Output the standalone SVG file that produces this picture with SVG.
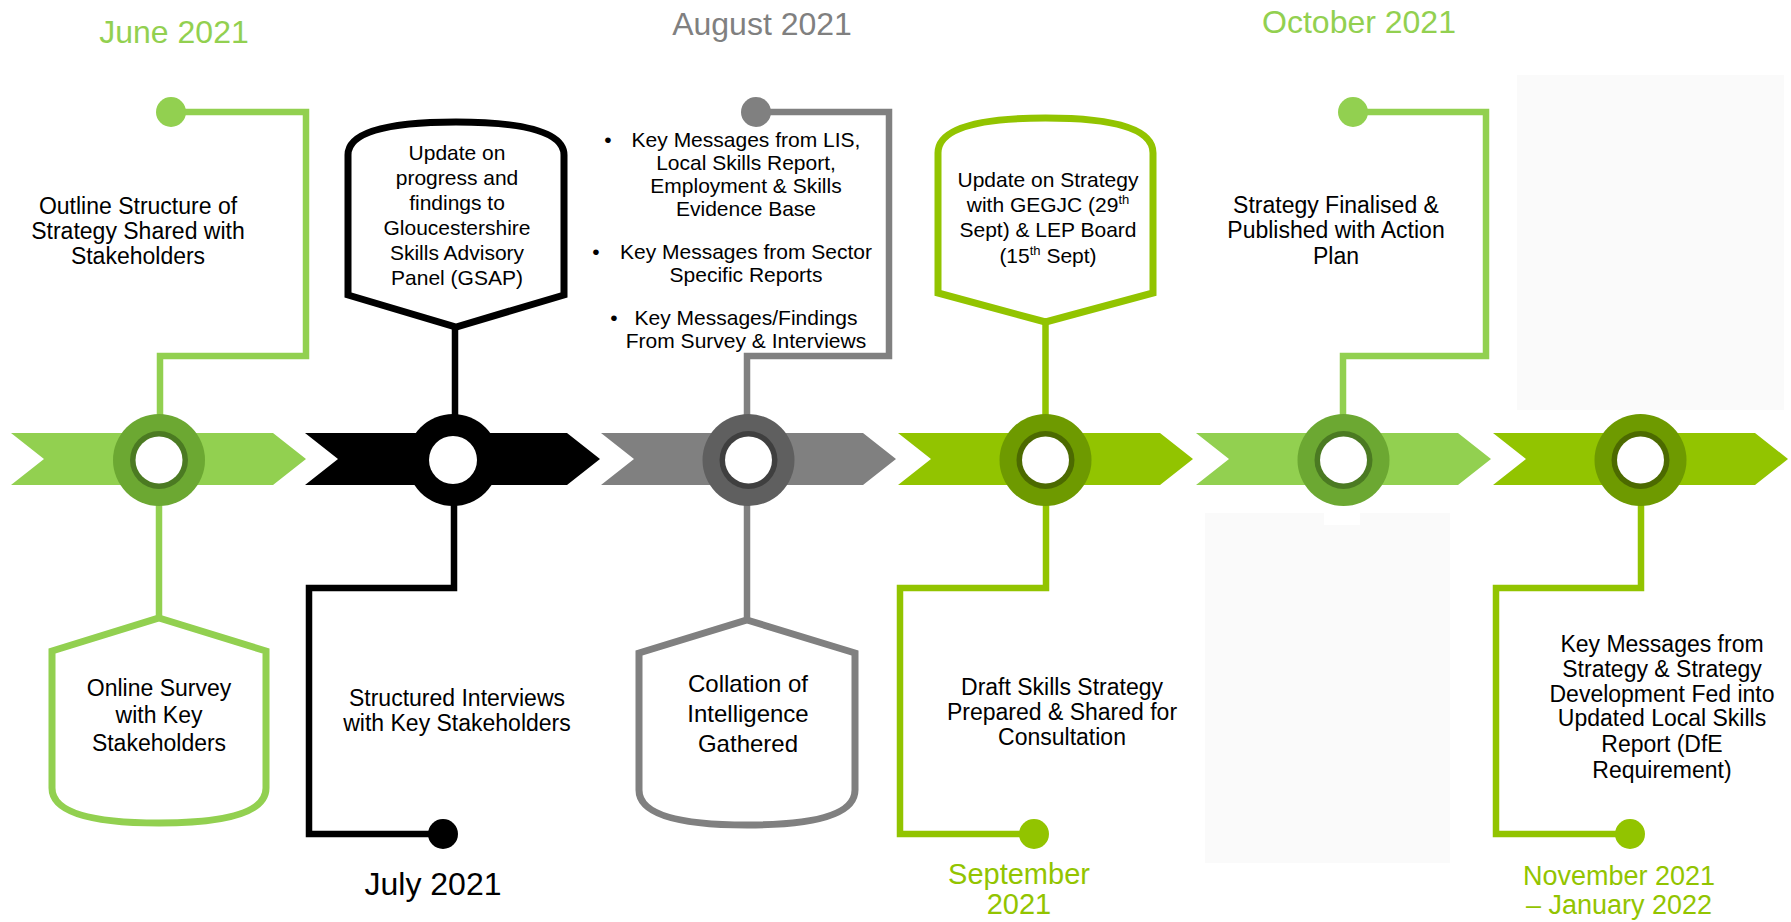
<svg xmlns="http://www.w3.org/2000/svg" xmlns:xlink="http://www.w3.org/1999/xlink" width="1791" height="922" viewBox="0 0 1791 922">
<style>
  text { font-family: "Liberation Sans", Arial, sans-serif; text-anchor: middle; fill: #000; }
  .t23 { font-size: 23px; }
  .t21 { font-size: 21px; }
  .t24 { font-size: 24px; }
  .date { font-size: 32px; }
  .c-lg { fill: #92D050; }
  .c-bk { fill: #000000; }
  .c-gy { fill: #808080; }
  .c-bg { fill: #92C400; }
  .ln { fill: none; stroke-width: 6.5; stroke-linejoin: miter; }
  .s-lg { stroke: #92D050; }
  .s-bk { stroke: #000000; }
  .s-gy { stroke: #808080; }
  .s-bg { stroke: #92C400; }
  .box { fill: #FFFFFF; stroke-width: 7; stroke-linejoin: miter; }
  .ghost { fill: #FAFAFA; }
</style>
<defs>
  <path id="chev" d="M0,433 H262 L295,459 L262,485 H0 L33,459 Z"/>
</defs>

<rect width="1791" height="922" fill="#FFFFFF"/>

<g id="background-panels">
  <rect class="ghost" x="1517" y="75" width="267" height="335"/>
  <rect class="ghost" x="1205" y="513" width="245" height="350"/>
  <rect x="1324" y="513" width="36" height="12" fill="#FFFFFF"/>
</g>

<g id="timeline">
  <use xlink:href="#chev" href="#chev" x="11" class="c-lg"/>
  <use xlink:href="#chev" href="#chev" x="305" class="c-bk"/>
  <use xlink:href="#chev" href="#chev" x="601" class="c-gy"/>
  <use xlink:href="#chev" href="#chev" x="898" class="c-bg"/>
  <use xlink:href="#chev" href="#chev" x="1196" class="c-lg"/>
  <use xlink:href="#chev" href="#chev" x="1493" class="c-bg"/>
</g>

<g id="connectors">
  <polyline class="ln s-lg" points="171,112 306,112 306,356 160,356 160,418"/>
  <circle cx="171" cy="112" r="15" fill="#92D050"/>
  <line class="ln s-lg" x1="159" y1="502" x2="159" y2="620"/>

  <line class="ln s-bk" x1="455" y1="325" x2="455" y2="418"/>
  <polyline class="ln s-bk" points="454,502 454,588 309,588 309,834 443,834"/>
  <circle cx="443" cy="834" r="15" fill="#000000"/>

  <polyline class="ln s-gy" points="756,112 889,112 889,356 747,356 747,418"/>
  <circle cx="756" cy="112" r="15" fill="#808080"/>
  <line class="ln s-gy" x1="747" y1="502" x2="747" y2="622"/>

  <line class="ln s-bg" x1="1045.5" y1="320" x2="1045.5" y2="418"/>
  <polyline class="ln s-bg" points="1046,502 1046,588 900,588 900,834 1034,834"/>
  <circle cx="1034" cy="834" r="15" fill="#92C400"/>

  <polyline class="ln s-lg" points="1353,112 1486,112 1486,356 1343,356 1343,418"/>
  <circle cx="1353" cy="112" r="15" fill="#92D050"/>

  <polyline class="ln s-bg" points="1641,502 1641,588 1496,588 1496,834 1630,834"/>
  <circle cx="1630" cy="834" r="15" fill="#92C400"/>
</g>

<g id="rings">
  <g id="ring-1"><circle cx="159" cy="460" r="46" fill="#6CA832"/><circle cx="159" cy="460" r="29" fill="#4B7A22"/><circle cx="159" cy="460" r="23.5" fill="#FFFFFF"/></g>
  <g id="ring-2"><circle cx="453" cy="460" r="46" fill="#000000"/><circle cx="453" cy="460" r="24" fill="#FFFFFF"/></g>
  <g id="ring-3"><circle cx="748.5" cy="460" r="46" fill="#5F5F5F"/><circle cx="748.5" cy="460" r="29" fill="#3F3F3F"/><circle cx="748.5" cy="460" r="23.5" fill="#FFFFFF"/></g>
  <g id="ring-4"><circle cx="1045.5" cy="460" r="46" fill="#6E9A00"/><circle cx="1045.5" cy="460" r="29" fill="#4C6A00"/><circle cx="1045.5" cy="460" r="23.5" fill="#FFFFFF"/></g>
  <g id="ring-5"><circle cx="1343.5" cy="460" r="46" fill="#6CA832"/><circle cx="1343.5" cy="460" r="29" fill="#4B7A22"/><circle cx="1343.5" cy="460" r="23.5" fill="#FFFFFF"/></g>
  <g id="ring-6"><circle cx="1640.5" cy="460" r="46" fill="#6E9A00"/><circle cx="1640.5" cy="460" r="29" fill="#4C6A00"/><circle cx="1640.5" cy="460" r="23.5" fill="#FFFFFF"/></g>
</g>

<g id="node-june">
  <text class="date" x="174" y="43" style="fill:#92D050">June 2021</text>
  <text class="t23" x="138" y="214">Outline Structure of</text>
  <text class="t23" x="138" y="239">Strategy Shared with</text>
  <text class="t23" x="138" y="264">Stakeholders</text>
</g>

<g id="node-online-survey">
  <path class="box s-lg" d="M159,618 L266,651 V788 Q266,823 159,823 Q52,823 52,788 V651 Z"/>
  <text class="t23" x="159" y="696">Online Survey</text>
  <text class="t23" x="159" y="723">with Key</text>
  <text class="t23" x="159" y="751">Stakeholders</text>
</g>

<g id="node-gsap">
  <path class="box s-bk" d="M348,295 V155 Q348,122 456,122 Q564,122 564,155 V295 L456,327 Z"/>
  <text class="t21" x="457" y="160">Update on</text>
  <text class="t21" x="457" y="185">progress and</text>
  <text class="t21" x="457" y="210">findings to</text>
  <text class="t21" x="457" y="235">Gloucestershire</text>
  <text class="t21" x="457" y="260">Skills Advisory</text>
  <text class="t21" x="457" y="285">Panel (GSAP)</text>
</g>

<g id="node-july">
  <text class="t23" x="457" y="706">Structured Interviews</text>
  <text class="t23" x="457" y="731">with Key Stakeholders</text>
  <text class="date" x="433" y="895">July 2021</text>
</g>

<g id="node-august">
  <text class="date" x="762" y="35" style="fill:#808080">August 2021</text>
  <g class="t21">
    <text x="608" y="146.5">•</text>
    <text x="746" y="146.5">Key Messages from LIS,</text>
    <text x="746" y="169.5">Local Skills Report,</text>
    <text x="746" y="192.5">Employment &amp; Skills</text>
    <text x="746" y="215.5">Evidence Base</text>
    <text x="596" y="258.5">•</text>
    <text x="746" y="258.5">Key Messages from Sector</text>
    <text x="746" y="281.5">Specific Reports</text>
    <text x="614" y="324.5">•</text>
    <text x="746" y="324.5">Key Messages/Findings</text>
    <text x="746" y="347.5">From Survey &amp; Interviews</text>
  </g>
</g>

<g id="node-collation">
  <path class="box s-gy" d="M747,620 L855,653 V790 Q855,825 747,825 Q639,825 639,790 V653 Z"/>
  <text class="t24" x="748" y="692">Collation of</text>
  <text class="t24" x="748" y="722">Intelligence</text>
  <text class="t24" x="748" y="752">Gathered</text>
</g>

<g id="node-september-update">
  <path class="box s-bg" d="M938,293 V153 Q938,118 1045.5,118 Q1153,118 1153,153 V293 L1045.5,322 Z"/>
  <text class="t21" x="1048" y="186.5">Update on Strategy</text>
  <text class="t21" x="1048" y="211.5">with GEGJC (29<tspan font-size="13" dy="-8">th</tspan></text>
  <text class="t21" x="1048" y="236.5">Sept) &amp;  LEP Board</text>
  <text class="t21" x="1048" y="262.5">(15<tspan font-size="13" dy="-8">th</tspan><tspan dy="8"> Sept)</tspan></text>
</g>

<g id="node-september">
  <text class="t23" x="1062" y="695">Draft Skills Strategy</text>
  <text class="t23" x="1062" y="720">Prepared &amp; Shared for</text>
  <text class="t23" x="1062" y="745">Consultation</text>
  <text style="font-size:29px;fill:#92C400"><tspan x="1019" y="884">September</tspan><tspan x="1019" y="914">2021</tspan></text>
</g>

<g id="node-october">
  <text class="date" x="1359" y="33" style="fill:#92D050">October 2021</text>
  <text class="t23" x="1336" y="213">Strategy Finalised &amp;</text>
  <text class="t23" x="1336" y="238">Published with Action</text>
  <text class="t23" x="1336" y="264">Plan</text>
</g>

<g id="node-november">
  <text class="t23" x="1662" y="652">Key Messages from</text>
  <text class="t23" x="1662" y="677">Strategy &amp; Strategy</text>
  <text class="t23" x="1662" y="702">Development Fed into</text>
  <text class="t23" x="1662" y="726">Updated Local Skills</text>
  <text class="t23" x="1662" y="752">Report (DfE</text>
  <text class="t23" x="1662" y="778">Requirement)</text>
  <text style="font-size:27px;fill:#92C400"><tspan x="1619" y="885">November 2021</tspan><tspan x="1619" y="914">– January 2022</tspan></text>
</g>
</svg>
